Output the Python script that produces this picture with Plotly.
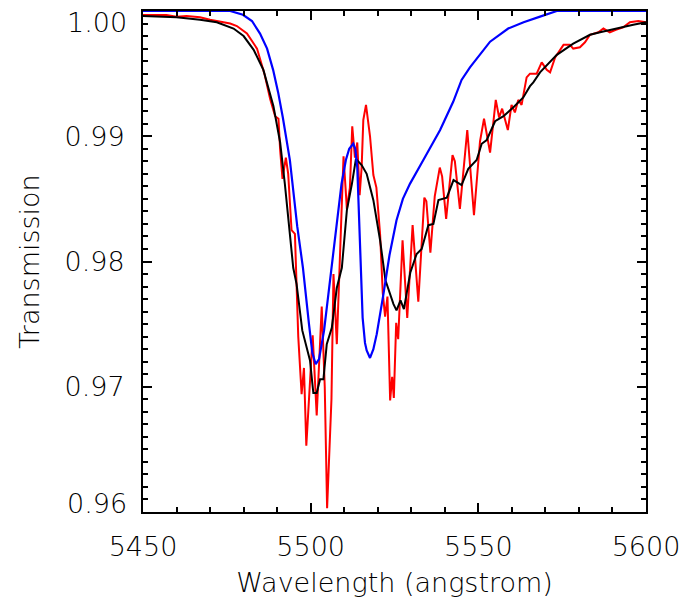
import plotly.graph_objects as go

# Blue model curve
blue_x = [5450, 5476, 5479.8, 5482.5, 5484.9, 5487, 5488.8, 5490.3, 5491.7, 5493.8, 5496, 5497.7,
          5499.5, 5500.5, 5501.5, 5502.5, 5504, 5505.5, 5506.8, 5508, 5509.2, 5510.5, 5511.5, 5512.7,
          5513.3, 5513.9, 5514.7, 5515.5, 5516.2, 5516.7, 5517.7, 5518.7, 5519.7, 5520.7, 5521.7,
          5523.5, 5525.6, 5527.5, 5529.6, 5533.6, 5538.6, 5542.5, 5545.0, 5547.5, 5550.5, 5553.5,
          5558.9, 5563.5, 5568.4, 5573.4, 5600]
blue_y = [1.0, 1.0, 0.9997, 0.9992, 0.9982, 0.9970, 0.9953, 0.9935, 0.9915, 0.9881, 0.9828, 0.9795,
          0.9750, 0.9727, 0.9718, 0.9722, 0.9745, 0.9780, 0.9809, 0.9838, 0.9862, 0.9881, 0.9890, 0.9894,
          0.9890, 0.9875, 0.9822, 0.9755, 0.9735, 0.9729, 0.9723, 0.9730, 0.9742, 0.9760, 0.9774,
          0.9805, 0.9833, 0.9850, 0.9862, 0.9881, 0.9905, 0.99275, 0.9945, 0.9955, 0.9965, 0.99755,
          0.9986, 0.9991, 0.99955, 1.0, 1.0]

# Black smoothed observation
black_x = [5450, 5455, 5460, 5467, 5472, 5477, 5480, 5483, 5485.9, 5488.9, 5490.9, 5492.3, 5493.8,
           5494.8, 5495.8, 5497.5, 5499.8, 5500.8, 5501.8, 5502.8, 5503.8, 5504.8, 5506.3, 5507.8,
           5509.3, 5510.8, 5512.3, 5513.5, 5515.2, 5516.7, 5518.7, 5520.7, 5522.3, 5524.7, 5525.6,
           5526.8, 5527.8, 5529.7, 5531.6, 5533.1, 5535.1, 5536.6, 5538.1, 5540.6, 5542.6, 5545.0,
           5547.0, 5549.5, 5551.0, 5552.5, 5555.0, 5557.5, 5560.4, 5563.4, 5565.4, 5566.4, 5568.4,
           5573.4, 5578.3, 5583.3, 5586.3, 5591, 5596.2, 5600]
black_y = [0.9996, 0.99955, 0.9995, 0.9993, 0.9991, 0.9986, 0.9980, 0.9969, 0.9953, 0.9924, 0.9895,
           0.9862, 0.9825, 0.9795, 0.9782, 0.9745, 0.9721, 0.9695, 0.9695, 0.9706, 0.9706, 0.9734,
           0.9747, 0.9779, 0.9795, 0.9841, 0.9862, 0.9882, 0.9877, 0.9870, 0.9849, 0.9817, 0.9785,
           0.9766, 0.9761, 0.9769, 0.9762, 0.9791, 0.9806, 0.9810, 0.9829, 0.9830, 0.9849, 0.9851,
           0.9865, 0.9861, 0.9874, 0.9881, 0.9894, 0.9897, 0.9912, 0.9916, 0.9923, 0.9931, 0.9940,
           0.9943, 0.9951, 0.9965, 0.9974, 0.9981, 0.9983, 0.9986, 0.9989, 0.9991]

# Red raw observation
red_x = [5450, 5453, 5457, 5460, 5463, 5467, 5470, 5474, 5476, 5478, 5481, 5484, 5486.2, 5487.9,
         5489.4, 5490.4, 5490.9, 5491.6, 5492.6, 5493.3, 5494.3, 5495.3, 5496.3, 5497.3, 5498.0,
         5498.7, 5499.8, 5500.6, 5501.8, 5503.3, 5504.2, 5504.9, 5506.2, 5506.8, 5507.8, 5508.9,
         5509.8, 5510.8, 5511.7, 5512.4, 5513.2, 5513.9, 5514.6, 5515.2, 5515.7, 5516.5, 5517.7,
         5518.7, 5519.6, 5520.7, 5521.5, 5522.2, 5522.9, 5523.7, 5524.3, 5524.8, 5525.5, 5526.1,
         5527.4, 5528.8, 5530.4, 5532.1, 5533.9, 5534.5, 5535.7, 5537.0, 5538.5, 5539.2, 5540.4,
         5542.3, 5543.0, 5544.5, 5546.7, 5548.7, 5550.5, 5551.7, 5553.5, 5555.2, 5556.2, 5557.1,
         5558.8, 5559.9, 5560.9, 5561.9, 5562.9, 5564.4, 5565.4, 5567.4, 5568.9, 5570.4, 5571.4,
         5572.9, 5575.4, 5577.3, 5578.3, 5580.3, 5581.8, 5583.3, 5585.8, 5587.3, 5589.2, 5591,
         5593.2, 5595.2, 5597.7, 5600]
red_y = [0.99968, 0.9997, 0.99968, 0.99955, 0.9996, 0.9995, 0.9993, 0.9991, 0.9990, 0.9988, 0.9982,
         0.9970, 0.9950, 0.9930, 0.9916, 0.9914, 0.9889, 0.9866, 0.9883, 0.9870, 0.9825, 0.9822,
         0.9740, 0.9694, 0.9715, 0.9653, 0.9710, 0.9741, 0.9677, 0.9764, 0.9700, 0.9603, 0.9690,
         0.9790, 0.9734, 0.9809, 0.9884, 0.9842, 0.9859, 0.9908, 0.9883, 0.9895, 0.9853, 0.9875,
         0.9913, 0.9925, 0.9900, 0.9869, 0.9859, 0.9822, 0.9775, 0.9756, 0.9772, 0.9689, 0.9708,
         0.9691, 0.9751, 0.9738, 0.9817, 0.9755, 0.9829, 0.9768, 0.9851, 0.9848, 0.9807, 0.9852,
         0.9875, 0.9868, 0.9834, 0.9885, 0.9880, 0.9842, 0.9905, 0.9837, 0.9896, 0.9914, 0.9887,
         0.9929, 0.9915, 0.9922, 0.9905, 0.9925, 0.9919, 0.9929, 0.9925, 0.9947, 0.9950, 0.9950,
         0.9959, 0.9953, 0.9951, 0.9963, 0.9973, 0.9973, 0.9970, 0.9971, 0.9975, 0.9981, 0.9983,
         0.9986, 0.9983, 0.9985, 0.9987, 0.9991, 0.9992, 0.9991]

x_ticks = [5450, 5500, 5550, 5600]
y_ticks = [0.96, 0.97, 0.98, 0.99, 1.00]
y_tick_text = ["0.96", "0.97", "0.98", "0.99", "1.00"]

FONT = "DejaVu Sans"
FS = 27

fig = go.Figure()
fig.add_trace(go.Scatter(x=red_x, y=red_y, mode="lines", line=dict(color="#ff0000", width=2), showlegend=False))
fig.add_trace(go.Scatter(x=black_x, y=black_y, mode="lines", line=dict(color="#000000", width=2), showlegend=False))
fig.add_trace(go.Scatter(x=blue_x, y=blue_y, mode="lines", line=dict(color="#0000ff", width=2.2), showlegend=False))

axis_common = dict(
    showgrid=False, zeroline=False, showline=True, linecolor="black", linewidth=2,
    mirror="ticks", ticks="inside", tickcolor="black", tickwidth=2, ticklen=9,
    tickfont=dict(family=FONT, size=FS, color="black", weight=300),
    automargin=False,
)

fig.update_xaxes(
    range=[5450, 5600], tickmode="array", tickvals=x_ticks, ticktext=[str(v) for v in x_ticks],
    minor=dict(dtick=10, ticks="inside", ticklen=5, tickwidth=2, tickcolor="black"),
    title=dict(text="Wavelength (angstrom)", font=dict(family=FONT, size=FS, color="black", weight=300), standoff=12),
    ticklabelstandoff=10,
    **axis_common,
)
# interior y labels drawn by the axis; the edge labels (0.96, 1.00) are drawn as
# annotations because the reference nudges them inward
inner_text = [t if 0.96 < v < 1.0 else "" for v, t in zip(y_ticks, y_tick_text)]
fig.update_yaxes(
    range=[0.96, 1.0], tickmode="array", tickvals=y_ticks, ticktext=inner_text,
    minor=dict(dtick=0.001, ticks="inside", ticklen=5, tickwidth=2, tickcolor="black"),
    title=dict(text="Transmission", font=dict(family=FONT, size=FS, color="black", weight=300), standoff=17),
    ticklabelstandoff=11,
    **axis_common,
)

for v, t in zip(y_ticks, y_tick_text):
    if v <= 0.96 or v >= 1.0:
        fig.add_annotation(
            x=0, xref="paper", y=v, yref="y", text=t, showarrow=False,
            xanchor="right", yanchor="middle", xshift=-14,
            yshift=(-11 if v >= 1.0 else 9),
            font=dict(family=FONT, size=FS, color="black", weight=300),
        )

fig.update_layout(
    width=687, height=605,
    margin=dict(l=135, r=49, t=3, b=101),
    paper_bgcolor="white", plot_bgcolor="white",
)

fig.write_html("out.html")
